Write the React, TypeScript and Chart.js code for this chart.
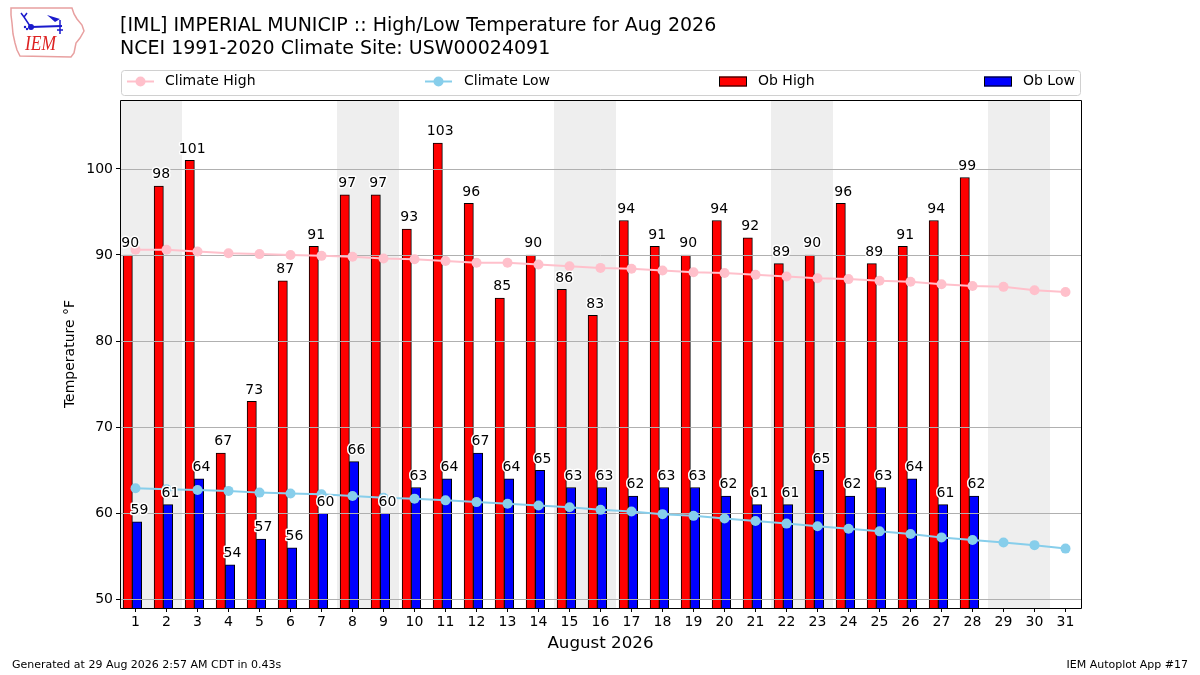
import React, { useEffect, useRef } from "react";
import { Chart, registerables } from "chart.js";

Chart.register(...registerables);

const FONT = "DejaVu Sans";

const days = [1, 2, 3, 4, 5, 6, 7, 8, 9, 10, 11, 12, 13, 14, 15, 16, 17, 18, 19, 20, 21, 22, 23, 24, 25, 26, 27, 28, 29, 30, 31];
const obDays = [1, 2, 3, 4, 5, 6, 7, 8, 9, 10, 11, 12, 13, 14, 15, 16, 17, 18, 19, 20, 21, 22, 23, 24, 25, 26, 27, 28];
const obHigh = [90, 98, 101, 67, 73, 87, 91, 97, 97, 93, 103, 96, 85, 90, 86, 83, 94, 91, 90, 94, 92, 89, 90, 96, 89, 91, 94, 99];
const obLow = [59, 61, 64, 54, 57, 56, 60, 66, 60, 63, 64, 67, 64, 65, 63, 63, 62, 63, 63, 62, 61, 61, 65, 62, 63, 64, 61, 62];
const climHigh = [90.6, 90.6, 90.4, 90.2, 90.1, 90.0, 89.9, 89.8, 89.6, 89.5, 89.3, 89.1, 89.1, 88.9, 88.7, 88.5, 88.4, 88.2, 88.0, 87.9, 87.7, 87.5, 87.3, 87.2, 87.0, 86.9, 86.6, 86.4, 86.3, 85.9, 85.7];
const climLow = [62.9, 62.8, 62.7, 62.6, 62.4, 62.3, 62.2, 62.0, 61.8, 61.7, 61.5, 61.3, 61.1, 60.9, 60.7, 60.4, 60.2, 59.9, 59.7, 59.4, 59.1, 58.8, 58.5, 58.2, 57.9, 57.6, 57.2, 56.9, 56.6, 56.3, 55.9];
const yTicks = [50, 60, 70, 80, 90, 100];
const weekendStarts = [1, 8, 15, 22, 29];

const titleLine1 = "[IML] IMPERIAL MUNICIP :: High/Low Temperature for Aug 2026";
const titleLine2 = "NCEI 1991-2020 Climate Site: USW00024091";
const xTitle = "August 2026";
const yTitle = "Temperature °F";
const footerLeft = "Generated at 29 Aug 2026 2:57 AM CDT in 0.43s";
const footerRight = "IEM Autoplot App #17";

const RED = "#ff0000";
const BLUE = "#0000ff";
const PINK = "#ffc0cb";
const SKY = "#87ceeb";

const decorPlugin = {
  id: "decor",
  beforeDatasetsDraw(chart: any) {
    const { ctx, chartArea: a, scales } = chart;
    const x = scales.x;
    ctx.save();
    ctx.beginPath();
    ctx.rect(a.left, a.top, a.right - a.left, a.bottom - a.top);
    ctx.clip();
    ctx.fillStyle = "#eeeeee";
    weekendStarts.forEach((d) => {
      const x0 = x.getPixelForValue(d - 0.5);
      const x1 = x.getPixelForValue(d + 1.5);
      ctx.fillRect(x0, a.top, x1 - x0, a.bottom - a.top);
    });
    ctx.restore();
  },
  afterDatasetDraw(chart: any, args: any) {
    if (args.index !== 0) return;
    const { ctx, chartArea: a, scales } = chart;
    const y = scales.y;
    ctx.save();
    ctx.strokeStyle = "#b0b0b0";
    ctx.lineWidth = 1;
    yTicks.forEach((v) => {
      const py = Math.round(y.getPixelForValue(v)) + 0.5;
      ctx.beginPath();
      ctx.moveTo(a.left, py);
      ctx.lineTo(a.right, py);
      ctx.stroke();
    });
    ctx.restore();
  },
  afterDatasetsDraw(chart: any) {
    const { ctx, chartArea: a, scales } = chart;
    const x = scales.x;
    const y = scales.y;
    ctx.save();
    ctx.font = `14px "${FONT}"`;
    ctx.textAlign = "center";
    ctx.textBaseline = "alphabetic";
    ctx.lineJoin = "round";
    const drawLabel = (txt: string, px: number, py: number) => {
      ctx.lineWidth = 3;
      ctx.strokeStyle = "#ffffff";
      ctx.strokeText(txt, px, py);
      ctx.fillStyle = "#000000";
      ctx.fillText(txt, px, py);
    };
    obDays.forEach((d, i) => {
      drawLabel(String(obHigh[i]), x.getPixelForValue(d - 0.17), y.getPixelForValue(obHigh[i]) - 7.7);
      drawLabel(String(obLow[i]), x.getPixelForValue(d + 0.13), y.getPixelForValue(obLow[i]) - 7.7);
    });
    // frame
    ctx.strokeStyle = "#000";
    ctx.lineWidth = 1;
    ctx.strokeRect(Math.round(a.left) + 0.5, Math.round(a.top) + 0.5, Math.round(a.right - a.left), Math.round(a.bottom - a.top));
    ctx.restore();
  },
  afterDraw(chart: any) {
    const { ctx, chartArea: a } = chart;
    ctx.save();
    // Logo
    ctx.strokeStyle = "#e8a0a0";
    ctx.lineWidth = 1.5;
    ctx.beginPath();
    const outline = [
      [11, 8], [72, 8], [74, 14], [77, 19], [82, 25], [84, 31], [80, 38], [76, 43], [75, 48], [74, 53], [71, 57], [20, 56], [17, 50], [15, 43], [13, 34], [12, 23], [11, 15],
    ];
    outline.forEach((p, i) => (i === 0 ? ctx.moveTo(p[0], p[1]) : ctx.lineTo(p[0], p[1])));
    ctx.closePath();
    ctx.stroke();
    ctx.strokeStyle = "#1a1acc";
    ctx.fillStyle = "#1a1acc";
    ctx.lineWidth = 2;
    ctx.beginPath();
    ctx.moveTo(31, 27);
    ctx.lineTo(62, 26);
    ctx.stroke();
    ctx.beginPath();
    ctx.arc(31, 27, 3, 0, Math.PI * 2);
    ctx.fill();
    ctx.lineWidth = 1.5;
    ctx.beginPath();
    ctx.moveTo(30, 26);
    ctx.lineTo(24, 17);
    ctx.moveTo(24, 17);
    ctx.lineTo(21, 13);
    ctx.moveTo(24, 17);
    ctx.lineTo(27, 13);
    ctx.moveTo(60, 20);
    ctx.lineTo(60, 34);
    ctx.moveTo(57, 30);
    ctx.lineTo(63, 30);
    ctx.stroke();
    ctx.beginPath();
    ctx.moveTo(47, 15);
    ctx.lineTo(60, 19);
    ctx.lineTo(55, 22);
    ctx.closePath();
    ctx.fill();
    ctx.beginPath();
    ctx.arc(25, 27, 1.2, 0, Math.PI * 2);
    ctx.arc(27, 29, 1.2, 0, Math.PI * 2);
    ctx.fill();
    ctx.fillStyle = "#dd2222";
    ctx.font = `italic 21px "Liberation Serif"`;
    ctx.textAlign = "left";
    ctx.textBaseline = "alphabetic";
    ctx.fillText("IEM", 25, 50, 31);

    // Titles
    ctx.fillStyle = "#000";
    ctx.font = `19px "${FONT}"`;
    ctx.fillText(titleLine1, 120, 31);
    ctx.fillText(titleLine2, 120, 54);

    // Legend
    const lx0 = 121, lx1 = 1080, ly0 = 70, ly1 = 95;
    ctx.fillStyle = "#ffffff";
    ctx.strokeStyle = "#d0d0d0";
    ctx.lineWidth = 1;
    ctx.beginPath();
    (ctx as any).roundRect(lx0 + 0.5, ly0 + 0.5, lx1 - lx0, ly1 - ly0, 3);
    ctx.fill();
    ctx.stroke();
    const cy = 81.5;
    const lineEntry = (x0: number, color: string, label: string, tx: number) => {
      ctx.strokeStyle = color;
      ctx.fillStyle = color;
      ctx.lineWidth = 2;
      ctx.beginPath();
      ctx.moveTo(x0, cy);
      ctx.lineTo(x0 + 27, cy);
      ctx.stroke();
      ctx.beginPath();
      ctx.arc(x0 + 13.5, cy, 5, 0, Math.PI * 2);
      ctx.fill();
      ctx.fillStyle = "#000";
      ctx.font = `14px "${FONT}"`;
      ctx.textBaseline = "middle";
      ctx.fillText(label, tx, cy);
    };
    const rectEntry = (x0: number, color: string, label: string, tx: number) => {
      ctx.fillStyle = color;
      ctx.fillRect(x0, cy - 5, 28, 10);
      ctx.strokeStyle = "#000";
      ctx.lineWidth = 1;
      ctx.strokeRect(x0 + 0.5, cy - 5 + 0.5, 27, 9);
      ctx.fillStyle = "#000";
      ctx.font = `14px "${FONT}"`;
      ctx.textBaseline = "middle";
      ctx.fillText(label, tx, cy);
    };
    lineEntry(127, PINK, "Climate High", 165);
    lineEntry(425, SKY, "Climate Low", 464);
    rectEntry(719, RED, "Ob High", 758);
    rectEntry(984, BLUE, "Ob Low", 1023);

    // Axis titles
    ctx.fillStyle = "#000";
    ctx.textAlign = "center";
    ctx.textBaseline = "middle";
    ctx.font = `16.7px "${FONT}"`;
    ctx.fillText(xTitle, (a.left + a.right) / 2, 644);
    ctx.save();
    ctx.translate(70, (a.top + a.bottom) / 2);
    ctx.rotate(-Math.PI / 2);
    ctx.font = `14px "${FONT}"`;
    ctx.fillText(yTitle, 0, 0);
    ctx.restore();

    // Footer
    ctx.font = `11px "${FONT}"`;
    ctx.textBaseline = "middle";
    ctx.textAlign = "left";
    ctx.fillText(footerLeft, 12, 665);
    ctx.textAlign = "right";
    ctx.fillText(footerRight, 1188, 665);
    ctx.restore();
  },
};

export default function App() {
  const ref = useRef<HTMLCanvasElement>(null);
  useEffect(() => {
    const canvas = ref.current;
    if (!canvas) return;
    const chart = new Chart(canvas, {
      type: "bar",
      data: {
        datasets: [
          {
            type: "bar",
            label: "Ob High",
            data: obDays.map((d, i) => ({ x: d - 0.25, y: obHigh[i] })),
            backgroundColor: RED,
            borderColor: "#000",
            borderWidth: 1,
            grouped: false,
            barPercentage: 1,
            categoryPercentage: 1,
            order: 2,
          } as any,
          {
            type: "bar",
            label: "Ob Low",
            data: obDays.map((d, i) => ({ x: d + 0.05, y: obLow[i] })),
            backgroundColor: BLUE,
            borderColor: "#000",
            borderWidth: 1,
            grouped: false,
            barPercentage: 1,
            categoryPercentage: 1,
            order: 2,
          } as any,
          {
            type: "line",
            label: "Climate High",
            data: days.map((d, i) => ({ x: d, y: climHigh[i] })),
            borderColor: PINK,
            backgroundColor: PINK,
            borderWidth: 2,
            pointRadius: 5,
            pointBorderWidth: 0,
            pointBackgroundColor: PINK,
            order: 1,
          } as any,
          {
            type: "line",
            label: "Climate Low",
            data: days.map((d, i) => ({ x: d, y: climLow[i] })),
            borderColor: SKY,
            backgroundColor: SKY,
            borderWidth: 2,
            pointRadius: 5,
            pointBorderWidth: 0,
            pointBackgroundColor: SKY,
            order: 1,
          } as any,
        ],
      },
      options: {
        animation: false,
        responsive: false,
        devicePixelRatio: 1,
        layout: { padding: { top: 100, right: 119, left: 0, bottom: 0 } },
        plugins: {
          legend: { display: false },
          title: { display: false },
          tooltip: { enabled: false },
        },
        scales: {
          x: {
            type: "linear",
            min: 0.5,
            max: 31.5,
            offset: false,
            afterBuildTicks: (s: any) => {
              s.ticks = days.map((v) => ({ value: v }));
            },
            afterFit: (s: any) => {
              s.height = 67;
            },
            grid: { display: true, offset: false, drawOnChartArea: false, drawTicks: true, tickLength: 4, color: "#000", lineWidth: 1 },
            border: { display: false },
            ticks: {
              font: { family: FONT, size: 14 },
              color: "#000",
              padding: 2,
              maxRotation: 0,
              autoSkip: false,
              callback: (v: any) => String(v),
            },
          },
          y: {
            type: "linear",
            min: 49,
            max: 108,
            afterBuildTicks: (s: any) => {
              s.ticks = yTicks.map((v) => ({ value: v }));
            },
            afterFit: (s: any) => {
              s.width = 120;
            },
            grid: { display: true, drawOnChartArea: false, drawTicks: true, tickLength: 4, color: "#000", lineWidth: 1 },
            border: { display: false },
            ticks: {
              font: { family: FONT, size: 14 },
              color: "#000",
              padding: 3,
              callback: (v: any) => String(v),
            },
          },
        },
      } as any,
      plugins: [decorPlugin],
    });
    return () => chart.destroy();
  }, []);
  return (
    <div style={{ position: "fixed", left: 0, top: 0, width: 1200, height: 675, background: "#fff" }}>
      <canvas ref={ref} width={1200} height={675} style={{ width: 1200, height: 675, display: "block" }} />
    </div>
  );
}
